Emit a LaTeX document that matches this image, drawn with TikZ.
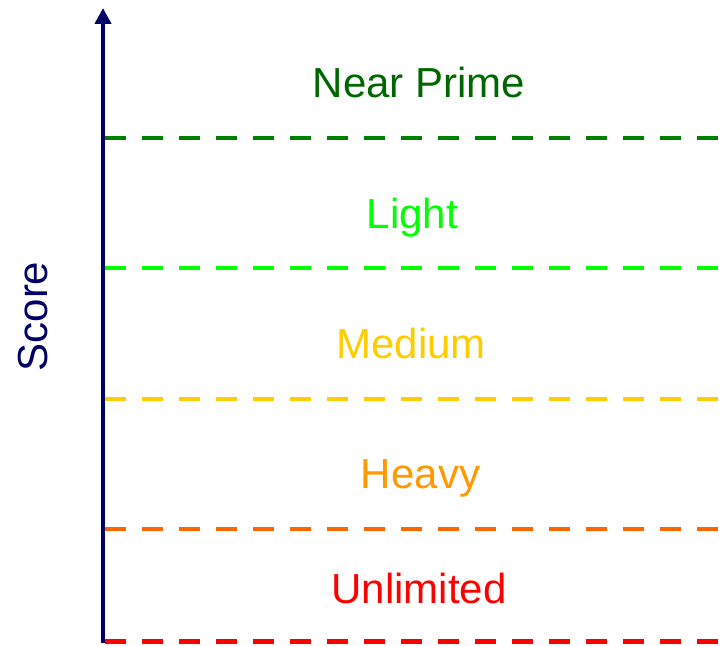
\documentclass[tikz,border=0pt]{standalone}
\usepackage{fontspec}
\setmainfont{Liberation Sans}
\usetikzlibrary{arrows.meta}
\definecolor{navyax}{HTML}{000066}
\definecolor{dkgreentext}{HTML}{006600}
\definecolor{dkgreenline}{HTML}{008000}
\definecolor{limec}{HTML}{00FF00}
\definecolor{yellowc}{HTML}{FFCC00}
\definecolor{orangetext}{HTML}{FF9900}
\definecolor{orangeline}{HTML}{FF6600}
\definecolor{redc}{HTML}{FF0000}
\tikzset{
  band/.style={line width=4.5pt, dash pattern=on 21pt off 16pt},
  lbl/.style={anchor=base, inner sep=0pt, font=\fontsize{42}{50}\selectfont},
}
\begin{document}
\begin{tikzpicture}[x=1pt,y=1pt]
\useasboundingbox (0,0) rectangle (719,645);
% axis
\coordinate (axbot) at (103,2);
\coordinate (axtop) at (103,637);
\draw[navyax, line width=4.5pt, -{Triangle[length=16pt,width=16pt]}] (axbot) -- (axtop);
\node[lbl, rotate=90, text=navyax] (score) at (47.5,328.5) {Score};
% band boundaries
\coordinate (g1) at (105,507); \coordinate (g2) at (719,507);
\coordinate (l1) at (105,377); \coordinate (l2) at (719,377);
\coordinate (y1) at (105,246); \coordinate (y2) at (719,246);
\coordinate (o1) at (105,116); \coordinate (o2) at (719,116);
\coordinate (r1) at (105,3.5); \coordinate (r2) at (719,3.5);
\draw[band, dkgreenline] (g1) -- (g2);
\draw[band, limec] (l1) -- (l2);
\draw[band, yellowc] (y1) -- (y2);
\draw[band, orangeline] (o1) -- (o2);
\draw[band, redc] (r1) -- (r2);
% labels
\node[lbl, text=dkgreentext] (nearprime) at (419,547) {Near Prime};
\node[lbl, text=limec] (light) at (412.5,416) {Light};
\node[lbl, text=yellowc] (medium) at (411,286) {Medium};
\node[lbl, text=orangetext] (heavy) at (420.5,157) {Heavy};
\node[lbl, text=redc] (unlimited) at (419,41.5) {Unlimited};
\end{tikzpicture}
\end{document}
